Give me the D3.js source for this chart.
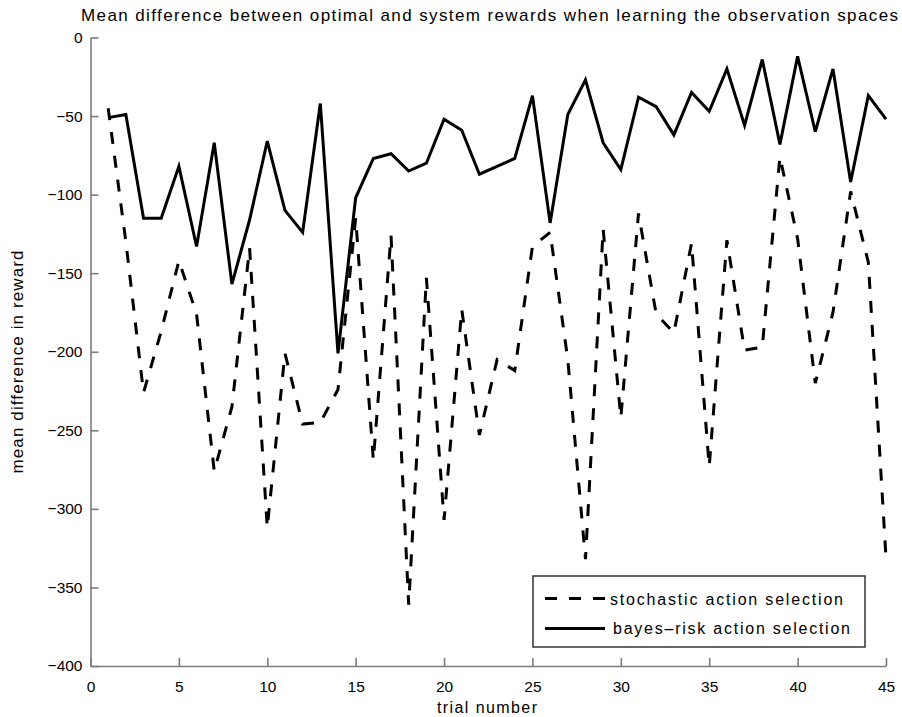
<!DOCTYPE html>
<html>
<head>
<meta charset="utf-8">
<script src="https://cdn.jsdelivr.net/npm/d3@7"></script>
<style>
  body { margin: 0; background: #fff; }
  text { font-family: "Liberation Sans", Arial, Helvetica, sans-serif; fill: #000; }
</style>
</head>
<body>
<div id="vis"></div>
<script>
// trial numbers on the x axis
const trials = [1, 2, 3, 4, 5, 6, 7, 8, 9, 10, 11, 12, 13, 14, 15, 16, 17, 18, 19, 20,
    21, 22, 23, 24, 25, 26, 27, 28, 29, 30, 31, 32, 33, 34, 35, 36, 37, 38, 39, 40,
    41, 42, 43, 44, 45];

// mean difference in reward, dashed line
const stochastic = [-45, -130, -226, -187, -142, -176, -276, -235, -134, -312,
    -201, -246, -245, -224, -115, -269, -126, -361, -153, -307,
    -173, -253, -205, -212, -133, -124, -205, -332, -122, -242,
    -112, -176, -188, -131, -273, -129, -199, -197, -76, -128,
    -220, -175, -98, -143, -331];

// mean difference in reward, solid line
const bayesRisk = [-51, -49, -115, -115, -82, -133, -67, -157, -116, -66,
    -110, -124, -42, -201, -102, -77, -74, -85, -80, -52,
    -59, -87, -82, -77, -37, -118, -49, -27, -67, -84,
    -38, -44, -62, -35, -47, -20, -56, -14, -68, -12,
    -60, -20, -92, -37, -52];

const xTicks = [0, 5, 10, 15, 20, 25, 30, 35, 40, 45];
const yTicks = [0, -50, -100, -150, -200, -250, -300, -350, -400];

const seriesNames = ["stochastic action selection", "bayes\u2013risk action selection"];

var margin = { top: 37.5, right: 16, bottom: 51, left: 90.5 },
    width = 902 - margin.left - margin.right,
    height = 717 - margin.top - margin.bottom;

var root = d3.select("#vis")
    .append("svg")
    .attr("width", 902)
    .attr("height", 717);

var svg = root.append("g")
    .attr("transform", "translate(" + margin.left + "," + margin.top + ")");

var x = d3.scaleLinear().domain([0, 45]).range([0, width]);
var y = d3.scaleLinear().domain([-400, 0]).range([height, 0]);

// axes: ticks point inward, like matlab
var xAxis = svg.append("g")
    .attr("transform", "translate(0," + height + ")")
    .call(d3.axisBottom(x).tickValues(xTicks).tickSize(-8).tickSizeOuter(0).tickPadding(15));

var yAxis = svg.append("g")
    .call(d3.axisLeft(y).tickValues(yTicks).tickSize(-8).tickSizeOuter(0).tickPadding(8));

svg.selectAll(".domain, .tick line")
    .attr("stroke", "#7c7c7c")
    .attr("stroke-width", 1.6);
svg.selectAll(".tick text")
    .attr("font-size", 15.5)
    .attr("fill", "#000");

var line = d3.line()
    .x((d, i) => x(trials[i]))
    .y(d => y(d));

svg.append("path")
    .datum(stochastic)
    .attr("d", line)
    .attr("fill", "none")
    .attr("stroke", "#000")
    .attr("stroke-width", 3)
    .attr("stroke-dasharray", "12,12");

svg.append("path")
    .datum(bayesRisk)
    .attr("d", line)
    .attr("fill", "none")
    .attr("stroke", "#000")
    .attr("stroke-width", 3)
    .attr("stroke-linejoin", "miter");

// title and labels
root.append("text")
    .attr("x", 489.5)
    .attr("y", 21)
    .attr("text-anchor", "middle")
    .attr("font-size", 17)
    .attr("textLength", 817)
    .attr("lengthAdjust", "spacing")
    .text("Mean difference between optimal and system rewards when learning the observation spaces");

root.append("text")
    .attr("x", 487)
    .attr("y", 713)
    .attr("text-anchor", "middle")
    .attr("font-size", 16)
    .attr("textLength", 100)
    .attr("lengthAdjust", "spacing")
    .text("trial number");

root.append("text")
    .attr("transform", "translate(23,362) rotate(-90)")
    .attr("text-anchor", "middle")
    .attr("font-size", 17)
    .attr("textLength", 223)
    .attr("lengthAdjust", "spacing")
    .text("mean difference in reward");

// legend
var legend = root.append("g").attr("transform", "translate(533,576)");

legend.append("rect")
    .attr("width", 332)
    .attr("height", 71)
    .attr("fill", "#fff")
    .attr("stroke", "#333")
    .attr("stroke-width", 1.5);

var rows = [
    { name: seriesNames[0], dash: "12,12", ly: 22.5, ty: 29, tx: 77, tl: 233 },
    { name: seriesNames[1], dash: null, ly: 52.5, ty: 58, tx: 80, tl: 237 }
];

rows.forEach(function (r) {
    legend.append("line")
        .attr("x1", 12).attr("x2", 72)
        .attr("y1", r.ly).attr("y2", r.ly)
        .attr("stroke", "#000")
        .attr("stroke-width", 3)
        .attr("stroke-dasharray", r.dash);
    legend.append("text")
        .attr("x", r.tx)
        .attr("y", r.ty)
        .attr("font-size", 16)
        .attr("textLength", r.tl)
        .attr("lengthAdjust", "spacing")
        .text(r.name);
});
</script>
</body>
</html>
